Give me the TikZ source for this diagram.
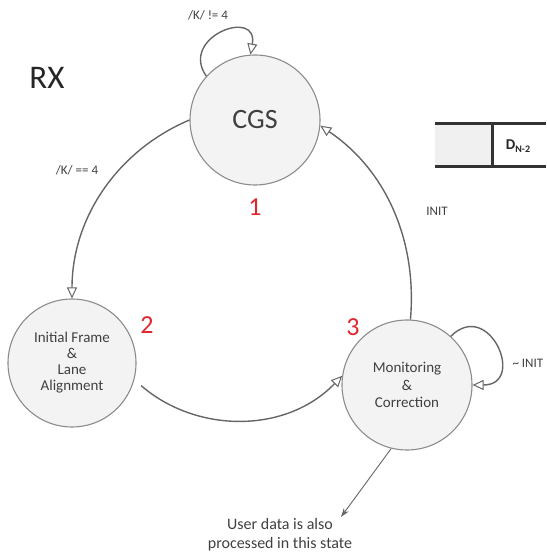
\documentclass[tikz,border=0pt]{standalone}
\usepackage{fontspec}
\setmainfont{Carlito}
\usetikzlibrary{arrows.meta}
\definecolor{stroke}{HTML}{8C8C8C}
\definecolor{statefill}{HTML}{F3F3F3}
\definecolor{conn}{HTML}{666666}
\definecolor{numred}{HTML}{E0262E}
\definecolor{tabline}{HTML}{333333}
\definecolor{txt}{HTML}{404040}
\begin{document}
\begin{tikzpicture}[x=1pt,y=1pt,
  state/.style={circle, draw=stroke, line width=1.1pt, fill=statefill, minimum size=130pt, inner sep=0pt, align=center, text=txt, font=\fontsize{15}{16}\selectfont},
  conn/.style={draw=conn, line width=1.4pt},
  hollow/.style={-{Triangle[open,length=11pt,width=10pt,line width=1pt]}},
  lbl/.style={text=txt, font=\fontsize{13}{15}\selectfont},
  num/.style={text=numred, font=\fontsize{26}{28}\selectfont}]
\useasboundingbox (0,0) rectangle (546,554);

% table fragment
\fill[black!6] (435,387) rectangle (492,430);
\draw[tabline, line width=3pt] (435,430) -- (546,430);
\draw[tabline, line width=3pt] (435,387) -- (546,387);
\draw[tabline, line width=3pt] (492,430) -- (492,387);
\node[font=\bfseries\fontsize{15}{16}\selectfont, text=black!85] (dn) at (518,408) {D\raisebox{-0.35ex}{\fontsize{10}{10}\selectfont N-2}};

% title
\node[font=\fontsize{33}{36}\selectfont, text=black!85] (rx) at (47,476) {RX};

% states
\node[state] (cgs) at (255,434) {\fontsize{28}{30}\selectfont CGS};
\node[state, minimum size=128pt] (ifa) at (72,191) {Initial Frame\\\&\\Lane\\Alignment};
\node[state, font=\fontsize{15}{17.5}\selectfont] (mc) at (407,169) {Monitoring\\\&\\Correction};

% numbers
\node[num] (n1) at (255,347) {1};
\node[num] (n2) at (147,229) {2};
\node[num] (n3) at (353,227) {3};

% transitions
\draw[conn, hollow] (cgs.138) to[out=125, in=80, looseness=2.5] (cgs.94);
\draw[conn, hollow] (cgs.180) to[out=203, in=90, looseness=0.95] (ifa.90);
\draw[conn, hollow, shorten <=9pt] (ifa.-15) to[out=-41, in=-134, looseness=1] (mc.172);
\draw[conn, hollow] (mc.87) to[out=85, in=-34, looseness=0.95] (cgs.-5);
\draw[conn, hollow] (mc.48) to[out=45, in=0, looseness=2.6] (mc.0);

% labels
\node[lbl] (k1) at (208,539) {/K/ != 4};
\node[lbl] (k2) at (77,384) {/K/ == 4};
\node[lbl] (init) at (437,343) {INIT};
\node[lbl, anchor=west] (ninit) at (509,191) {\textasciitilde{} INIT};

% note
\coordinate (tip) at (341,37);
\draw[draw=conn, line width=0.9pt, -{Stealth[length=9pt,width=6pt]}] (mc.-104) -- (tip);
\node[text=txt, align=center, font=\fontsize{16}{19}\selectfont] (note) at (280,19) {User data is also\\processed in this state};
\end{tikzpicture}
\end{document}
